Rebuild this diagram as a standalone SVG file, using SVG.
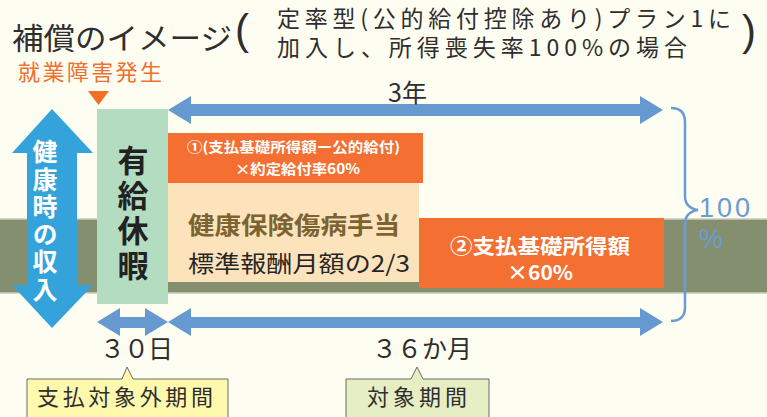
<svg xmlns="http://www.w3.org/2000/svg" width="767" height="417" viewBox="0 0 767 417">
<style>
.jp{font-family:"Noto Sans CJK JP","Noto Sans",sans-serif;}
.dark{fill:#2e2e2e;}
.wb{fill:#ffffff;font-weight:bold;}
.arrow{fill:#6699D0;}
.callout{stroke:#6b6b6b;stroke-width:1;}
.vert{writing-mode:vertical-rl;}
</style>
<rect x="0" y="0" width="767" height="417" fill="#FEFDF2"/>
<g id="band">
<rect x="0" y="219" width="767" height="74" fill="#848F6F"/>
<line x1="0" y1="219" x2="767" y2="219" stroke="#C9CDBD" stroke-width="1.5"/>
<line x1="0" y1="293" x2="767" y2="293" stroke="#C9CDBD" stroke-width="1.5"/>
</g>
<g id="title">
<text class="jp dark" x="12" y="49" font-size="30" textLength="220" lengthAdjust="spacingAndGlyphs">補償のイメージ</text>
<text x="235" y="44" font-family="Liberation Sans, sans-serif" font-size="42" fill="#2e2e2e">(</text>
<text x="742" y="45" font-family="Liberation Sans, sans-serif" font-size="42" fill="#2e2e2e">)</text>
<text class="jp dark" x="277" y="27" font-size="23" textLength="454" lengthAdjust="spacing">定率型(公的給付控除あり)プラン1に</text>
<text class="jp dark" x="277" y="56" font-size="23" textLength="410" lengthAdjust="spacing">加入し、所得喪失率100%の場合</text>
</g>
<g id="onset">
<text class="jp" x="18" y="80" font-size="22" fill="#F07030" textLength="144" lengthAdjust="spacing">就業障害発生</text>
<polygon points="88,91 109,91 98.5,105" fill="#F37021"/>
</g>
<g id="health-income">
<polygon points="52,109 93,153 77,153 77,285 93,285 52,328 12,285 27,285 27,153 12,153" fill="#35A3DB"/>
<text class="jp wb vert" x="45" y="139" font-size="25" letter-spacing="2.6">健康時の収入</text>
</g>
<g id="paid-leave">
<rect x="97" y="109" width="71" height="195" fill="#B3DCC1"/>
<text class="jp vert" x="133" y="145" font-size="31" font-weight="bold" fill="#222" letter-spacing="4">有給休暇</text>
</g>
<g id="sickness-allowance">
<rect x="168" y="183" width="251" height="99" fill="#FDE3BB"/>
<text class="jp" x="188" y="234" font-size="24" font-weight="bold" fill="#7B6432" textLength="212" lengthAdjust="spacingAndGlyphs">健康保険傷病手当</text>
<text class="jp" x="188" y="272" font-size="23" fill="#262626" textLength="222" lengthAdjust="spacingAndGlyphs">標準報酬月額の2/3</text>
</g>
<g id="benefit1">
<rect x="168" y="133" width="255" height="50" fill="#F37032"/>
<text class="jp wb" x="187" y="152" font-size="14" textLength="213" lengthAdjust="spacingAndGlyphs">①(支払基礎所得額ー公的給付)</text>
<text class="jp wb" x="235" y="174" font-size="14" textLength="125" lengthAdjust="spacingAndGlyphs">×約定給付率60%</text>
</g>
<g id="benefit2">
<rect x="419" y="218" width="245" height="70" fill="#F37032"/>
<text class="jp wb" x="450" y="254" font-size="20" textLength="180" lengthAdjust="spacingAndGlyphs">②支払基礎所得額</text>
<text class="jp wb" x="507" y="280" font-size="20" textLength="66" lengthAdjust="spacingAndGlyphs">×60%</text>
</g>
<g id="connectors">
<polygon class="arrow" points="168,110 191,96 191,104 640,104 640,96 663,110 640,124 640,116 191,116 191,124"/>
<polygon class="arrow" points="97,322 120,308 120,317 145,317 145,308 168,322 145,336 145,328 120,328 120,336"/>
<polygon class="arrow" points="168,322 191,308 191,317 640,317 640,308 663,322 640,336 640,328 191,328 191,336"/>
<path d="M671,108 Q685,108 685,122 L685,196 Q685,208 698,210 Q685,212 685,224 L685,307 Q685,321 671,321" fill="none" stroke="#6A9BD3" stroke-width="2.5"/>
</g>
<g id="labels">
<text class="jp dark" x="388" y="102" font-size="25">3年</text>
<text x="699" y="217" font-family="Liberation Sans, sans-serif" font-size="27" fill="#6A9BD3" textLength="51" lengthAdjust="spacing">100</text>
<text x="699" y="248" font-family="Liberation Sans, sans-serif" font-size="27" fill="#6A9BD3">%</text>
<text class="jp dark" x="100" y="358" font-size="25" textLength="73" lengthAdjust="spacing">３０日</text>
<text class="jp dark" x="372" y="358" font-size="25" textLength="100" lengthAdjust="spacing">３６か月</text>
</g>
<g id="callout-excluded">
<path class="callout" d="M27,379 L122,379 L127,367 L133,379 L228,379 L228,420 L27,420 Z" fill="#FFF9AE"/>
<text class="jp dark" x="37" y="405" font-size="22" textLength="176" lengthAdjust="spacing">支払対象外期間</text>
</g>
<g id="callout-covered">
<path class="callout" d="M346,379 L411,379 L417,367 L423,379 L489,379 L489,420 L346,420 Z" fill="#E6EEC3"/>
<text class="jp dark" x="367" y="405" font-size="22" textLength="100" lengthAdjust="spacing">対象期間</text>
</g>
</svg>
